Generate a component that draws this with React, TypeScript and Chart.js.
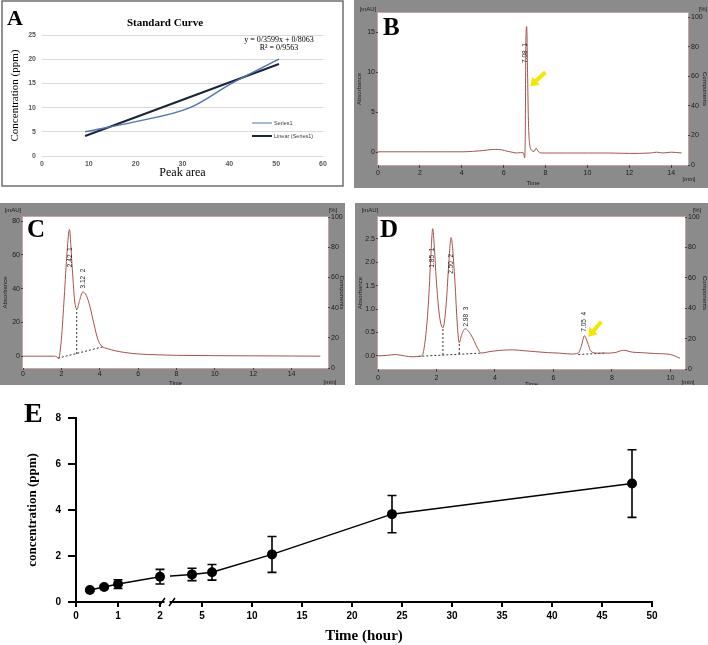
import React, { useEffect, useRef } from "react";
import { Chart, registerables } from "chart.js";

Chart.register(...registerables);

// ---------------- Panel A : standard curve ----------------
const aPeakArea = [9.2, 20, 31.6, 40.5, 50.6];
const aConcentration = [5, 7.1, 10, 15, 20];
const aTrendX = [9.2, 50.6];
const aTrendY = [4.12, 19.02];
const aXTicks = [0, 10, 20, 30, 40, 50, 60];
const aYTicks = [0, 5, 10, 15, 20, 25];
const aEquation = ["y = 0/3599x + 0/8063", "R² = 0/9563"];
const aLegend = ["Series1", "Linear (Series1)"];

// ---------------- Panel B : chromatogram ----------------
const bTime = [0, 1, 2, 3, 4, 4.5, 5, 5.3, 5.6, 5.9, 6.2, 6.4, 6.6, 6.8, 6.95, 7.0, 7.03, 7.06, 7.1, 7.14, 7.18, 7.22, 7.28, 7.35, 7.45, 7.55, 7.65, 7.8, 8, 9, 10, 11, 12, 13, 13.3, 13.6, 14, 14.5];
const bAbs = [0.05, 0.05, 0.05, 0.05, 0.05, 0.1, 0.2, 0.3, 0.35, 0.3, 0.1, 0, -0.1, -0.05, -0.1, -0.7, 2, 14, 15.7, 10, 4, 1.5, 0.5, 0.2, 0.1, 0.5, 0.1, -0.1, -0.1, -0.1, -0.1, -0.1, -0.15, -0.1, 0, -0.1, 0, -0.1];
const bXTicks = [0, 2, 4, 6, 8, 10, 12, 14];
const bYTicks = [0, 5, 10, 15];
const bPeakTime = [7.05];
const bPeakLabelAbs = [12.4];
const bPeakRt = ["7.08"];
const bPeakNo = ["1"];
const bArrow = [7.99, 10, 7.27, 8.25];

// ---------------- Panel C : chromatogram ----------------
const cTime = [0, 1, 1.6, 1.78, 1.85, 2.0, 2.15, 2.3, 2.42, 2.55, 2.7, 2.82, 2.95, 3.12, 3.3, 3.5, 3.7, 3.9, 4.1, 4.4, 4.8, 5.3, 6, 7, 8, 10, 12, 14, 15.5];
const cAbs = [0, 0, 0, -0.5, -1.5, 10, 35, 62, 75, 55, 32, 28, 33, 38, 36, 29, 19, 10, 6, 4.5, 3.2, 2.2, 1.3, 0.8, 0.5, 0.3, 0.2, 0.1, 0];
const cXTicks = [0, 2, 4, 6, 8, 10, 12, 14];
const cYTicks = [0, 20, 40, 60, 80];
const cBaseTime = [1.82, 4.15];
const cBaseAbs = [-1.2, 5.5];
const cCutTime = [2.8, 2.8];
const cCutAbs = [1.3, 28];
const cPeakTime = [2.45, 3.12];
const cPeakLabelAbs = [58.6, 46];
const cPeakRt = ["2.42", "3.12"];
const cPeakNo = ["1", "2"];

// ---------------- Panel D : chromatogram ----------------
const dTime = [0, 0.3, 0.6, 0.9, 1.2, 1.4, 1.5, 1.61, 1.72, 1.81, 1.87, 1.93, 1.99, 2.1, 2.22, 2.33, 2.41, 2.5, 2.61, 2.72, 2.78, 2.86, 2.98, 3.18, 3.41, 3.53, 3.8, 4.2, 4.6, 5.0, 5.4, 5.8, 6.2, 6.6, 6.85, 6.95, 7.06, 7.16, 7.28, 7.5, 7.8, 8.1, 8.4, 8.7, 9.0, 9.5, 10.0, 10.33];
const dAbs = [0, 0.01, 0.03, 0.0, -0.02, -0.01, 0.0, 0.31, 1.09, 2.16, 2.72, 2.3, 1.66, 0.87, 0.6, 1.09, 1.87, 2.53, 1.8, 0.6, 0.28, 0.45, 0.58, 0.45, 0.16, 0.06, 0.09, 0.12, 0.13, 0.11, 0.09, 0.07, 0.06, 0.04, 0.06, 0.2, 0.43, 0.3, 0.1, 0.06, 0.06, 0.07, 0.12, 0.08, 0.07, 0.05, 0.03, -0.05];
const dXTicks = [0, 2, 4, 6, 8, 10];
const dYTicks = [0, 0.5, 1, 1.5, 2, 2.5];
const dBaseTime = [1.38, 3.53];
const dBaseAbs = [-0.01, 0.06];
const dCut1Time = [2.22, 2.22];
const dCut1Abs = [0.02, 0.6];
const dCut2Time = [2.78, 2.78];
const dCut2Abs = [0.04, 0.28];
const dBase2Time = [6.85, 7.76];
const dBase2Abs = [0.03, 0.06];
const dPeakTime = [1.84, 2.52, 3.0, 7.05];
const dPeakLabelAbs = [2.1, 1.97, 0.84, 0.73];
const dPeakRt = ["1.85", "2.50", "2.98", "7.05"];
const dPeakNo = ["1", "2", "3", "4"];
const dArrow = [7.64, 0.73, 7.19, 0.41];

const pctTicks = [0, 20, 40, 60, 80, 100];

// ---------------- Panel E : concentration vs time ----------------
const eHours = [0.33, 0.67, 1, 2, 4, 6, 12, 24, 48];
const eMean = [0.52, 0.65, 0.78, 1.1, 1.2, 1.29, 2.07, 3.82, 5.15];
const eSD = [0.05, 0.06, 0.19, 0.32, 0.27, 0.34, 0.78, 0.81, 1.47];
const eXTickHours = [0, 1, 2, 5, 10, 15, 20, 25, 30, 35, 40, 45, 50];
const eYTicks = [0, 2, 4, 6, 8];

// broken axis: 0-2 h expanded, then linear from 5 h
const uOf = (h: number) => (h <= 2 ? h * 42 : 126 + (h - 5) * 10);
const E_BREAK_U = 91;

const GRAY = "#8b8b8b";
const TRACE = "#a9524e";
const TXT = "#1c1c1c";
const SANS = '"Liberation Sans", Arial, sans-serif';
const SERIF = '"Liberation Serif", "Times New Roman", serif';

const pts = (xs: number[], ys: number[]) => xs.map((x, i) => ({ x, y: ys[i] }));
const setTicks = (vals: number[]) => (s: any) => {
  s.ticks = vals.map((v) => ({ value: v }));
};

function drawArrow(ctx: CanvasRenderingContext2D, x1: number, y1: number, x2: number, y2: number) {
  const ang = Math.atan2(y2 - y1, x2 - x1);
  const head = 8;
  ctx.save();
  ctx.strokeStyle = "#f3e600";
  ctx.fillStyle = "#f3e600";
  ctx.lineWidth = 4;
  ctx.beginPath();
  ctx.moveTo(x1, y1);
  ctx.lineTo(x2 - Math.cos(ang) * head * 0.8, y2 - Math.sin(ang) * head * 0.8);
  ctx.stroke();
  ctx.beginPath();
  ctx.moveTo(x2, y2);
  ctx.lineTo(x2 - Math.cos(ang) * head - Math.sin(ang) * 5.5, y2 - Math.sin(ang) * head + Math.cos(ang) * 5.5);
  ctx.lineTo(x2 - Math.cos(ang) * head + Math.sin(ang) * 5.5, y2 - Math.sin(ang) * head - Math.cos(ang) * 5.5);
  ctx.closePath();
  ctx.fill();
  ctx.restore();
}

// ---------------- config builders ----------------
function configA(): any {
  const plugin = {
    id: "panelA",
    afterDraw(chart: any) {
      const ctx: CanvasRenderingContext2D = chart.ctx;
      ctx.save();
      ctx.strokeStyle = "#6f6f6f";
      ctx.lineWidth = 1.5;
      ctx.strokeRect(2, 1, 341, 185);
      ctx.fillStyle = "#000";
      ctx.textAlign = "center";
      ctx.textBaseline = "middle";
      ctx.font = `bold 11px ${SERIF}`;
      ctx.fillText("Standard Curve", 165, 23);
      ctx.font = `8px ${SERIF}`;
      ctx.fillText(aEquation[0], 279, 40);
      ctx.fillText(aEquation[1], 279, 48);
      // legend
      ctx.strokeStyle = "#4f76b3";
      ctx.lineWidth = 1;
      ctx.beginPath();
      ctx.moveTo(252, 123);
      ctx.lineTo(272, 123);
      ctx.stroke();
      ctx.strokeStyle = "#1c2536";
      ctx.lineWidth = 2;
      ctx.beginPath();
      ctx.moveTo(252, 136);
      ctx.lineTo(272, 136);
      ctx.stroke();
      ctx.fillStyle = "#404040";
      ctx.textAlign = "left";
      ctx.font = `5.5px ${SANS}`;
      ctx.fillText(aLegend[0], 274, 123);
      ctx.fillText(aLegend[1], 274, 136);
      ctx.fillStyle = "#000";
      ctx.font = `bold 22px ${SERIF}`;
      ctx.textBaseline = "alphabetic";
      ctx.fillText("A", 7, 25);
      ctx.restore();
    },
  };
  return {
    type: "line",
    data: {
      datasets: [
        {
          label: aLegend[0],
          data: pts(aPeakArea, aConcentration),
          borderColor: "#4f76b3",
          borderWidth: 1.5,
          pointRadius: 0,
          cubicInterpolationMode: "monotone",
        },
        {
          label: aLegend[1],
          data: pts(aTrendX, aTrendY),
          borderColor: "#1c2536",
          borderWidth: 2,
          pointRadius: 0,
        },
      ],
    },
    options: {
      responsive: false,
      animation: false,
      devicePixelRatio: 1,
      layout: { padding: { top: 35, right: 22, left: 0, bottom: 0 } },
      plugins: { legend: { display: false }, tooltip: { enabled: false } },
      scales: {
        x: {
          type: "linear",
          min: 0,
          max: 60,
          afterBuildTicks: setTicks(aXTicks),
          afterFit: (s: any) => { s.height = 34; },
          grid: { display: false, drawTicks: false },
          border: { display: false },
          ticks: { font: { family: SANS, size: 7, weight: "bold" }, color: "#595959", padding: 4 },
          title: { display: true, text: "Peak area", font: { family: SERIF, size: 12 }, color: "#000", padding: { top: 0, bottom: 9.5 } },
        },
        y: {
          type: "linear",
          min: 0,
          max: 25,
          afterBuildTicks: setTicks(aYTicks),
          afterFit: (s: any) => { s.width = 42; },
          grid: { color: "#d9d9d9", drawTicks: false },
          border: { display: false },
          ticks: { font: { family: SANS, size: 7, weight: "bold" }, color: "#595959", padding: 6 },
          title: { display: true, text: "Concentration (ppm)", font: { family: SERIF, size: 11 }, color: "#000", padding: { top: 8.4, bottom: 0 } },
        },
      },
    },
    plugins: [plugin],
  };
}

type ChromSpec = {
  top: number; yW: number; y2W: number; xH: number;
  time: number[]; abs: number[];
  xMax: number; xTicks: number[];
  yMin: number; yMax: number; yTicks: number[]; yDec: number;
  dashed: { x: number[]; y: number[] }[];
  peakT: number[]; peakV: number[]; peakRt: string[]; peakNo: string[];
  arrow?: number[];
  letter: string; letterX: number; letterY: number;
  mau: number[]; pct: number[]; minPos: number[];
  xTickLen: number; xTickPad: number; timePad: number; y2Max: number;
};

function chromConfig(s: ChromSpec): any {
  const plugin = {
    id: "chrom" + s.letter,
    beforeDraw(chart: any) {
      const { ctx, chartArea: a, width, height } = chart;
      ctx.save();
      ctx.fillStyle = GRAY;
      ctx.fillRect(0, 0, width, height);
      ctx.fillStyle = "#ffffff";
      ctx.fillRect(a.left, a.top, a.right - a.left, a.bottom - a.top);
      ctx.strokeStyle = "#c9a4a2";
      ctx.lineWidth = 1;
      ctx.strokeRect(a.left - 0.5, a.top - 0.5, a.right - a.left + 1, a.bottom - a.top + 1);
      ctx.restore();
    },
    afterDraw(chart: any) {
      const ctx: CanvasRenderingContext2D = chart.ctx;
      const xs = chart.scales.x;
      const ys = chart.scales.y;
      ctx.save();
      ctx.fillStyle = TXT;
      ctx.font = `6.5px ${SANS}`;
      ctx.textAlign = "center";
      ctx.textBaseline = "middle";
      s.peakT.forEach((t, i) => {
        const x = xs.getPixelForValue(t);
        const y = ys.getPixelForValue(s.peakV[i]);
        ctx.save();
        ctx.translate(x, y);
        ctx.rotate(-Math.PI / 2);
        ctx.fillText(s.peakRt[i] + "  " + s.peakNo[i], 0, 0);
        ctx.restore();
      });
      if (s.arrow) {
        drawArrow(
          ctx,
          xs.getPixelForValue(s.arrow[0]), ys.getPixelForValue(s.arrow[1]),
          xs.getPixelForValue(s.arrow[2]), ys.getPixelForValue(s.arrow[3])
        );
      }
      ctx.fillStyle = TXT;
      ctx.font = `6px ${SANS}`;
      ctx.fillText("[mAU]", s.mau[0], s.mau[1]);
      ctx.fillText("[%]", s.pct[0], s.pct[1]);
      ctx.fillText("[min]", s.minPos[0], s.minPos[1]);
      ctx.fillStyle = "#000";
      ctx.font = `bold 25px ${SERIF}`;
      ctx.textAlign = "left";
      ctx.textBaseline = "alphabetic";
      ctx.fillText(s.letter, s.letterX, s.letterY);
      ctx.restore();
    },
  };
  const tickFont = { family: SANS, size: 7 };
  const titleFont = { family: SANS, size: 6 };
  return {
    type: "line",
    data: {
      datasets: [
        {
          data: pts(s.time, s.abs),
          borderColor: TRACE,
          borderWidth: 1,
          pointRadius: 0,
          cubicInterpolationMode: "monotone",
        },
        ...s.dashed.map((d) => ({
          data: pts(d.x, d.y),
          borderColor: "#333",
          borderWidth: 1,
          borderDash: [2, 2],
          pointRadius: 0,
        })),
      ],
    },
    options: {
      responsive: false,
      animation: false,
      devicePixelRatio: 1,
      layout: { padding: { top: s.top, right: 0, left: 0, bottom: 0 } },
      plugins: { legend: { display: false }, tooltip: { enabled: false } },
      scales: {
        x: {
          type: "linear",
          min: 0,
          max: s.xMax,
          afterBuildTicks: setTicks(s.xTicks),
          afterFit: (sc: any) => { sc.height = s.xH; },
          grid: { drawOnChartArea: false, drawTicks: true, tickLength: s.xTickLen, color: "#444" },
          border: { display: false },
          ticks: { font: tickFont, color: TXT, padding: s.xTickPad, maxRotation: 0, autoSkip: false },
          title: { display: true, text: "Time", font: titleFont, color: TXT, padding: { top: 0, bottom: s.timePad } },
        },
        y: {
          type: "linear",
          min: s.yMin,
          max: s.yMax,
          afterBuildTicks: setTicks(s.yTicks),
          afterFit: (sc: any) => { sc.width = s.yW; },
          grid: { drawOnChartArea: false, drawTicks: true, tickLength: 2, color: "#444" },
          border: { display: false },
          ticks: { font: tickFont, color: TXT, padding: 1, callback: (v: number) => v.toFixed(s.yDec) },
          title: { display: true, text: "Absorbance", font: titleFont, color: TXT, padding: { top: 1.4, bottom: 0 } },
        },
        y2: {
          type: "linear",
          position: "right",
          min: 0,
          max: s.y2Max,
          afterBuildTicks: setTicks(pctTicks),
          afterFit: (sc: any) => { sc.width = s.y2W; },
          grid: { drawOnChartArea: false, drawTicks: true, tickLength: 2, color: "#444" },
          border: { display: false },
          ticks: { font: tickFont, color: TXT, padding: 1 },
          title: { display: true, text: "Components", font: titleFont, color: TXT, padding: { top: 0, bottom: 0 } },
        },
      },
    },
    plugins: [plugin],
  };
}

function configE(): any {
  const iBreak = eHours.indexOf(2);
  const plugin = {
    id: "panelE",
    beforeDatasetsDraw(chart: any) {
      const ctx: CanvasRenderingContext2D = chart.ctx;
      const xs = chart.scales.x;
      const ys = chart.scales.y;
      ctx.save();
      ctx.strokeStyle = "#000";
      ctx.lineWidth = 1.6;
      eHours.forEach((h, i) => {
        const x = xs.getPixelForValue(uOf(h));
        const yt = ys.getPixelForValue(eMean[i] + eSD[i]);
        const yb = ys.getPixelForValue(eMean[i] - eSD[i]);
        ctx.beginPath();
        ctx.moveTo(x, yt);
        ctx.lineTo(x, yb);
        ctx.moveTo(x - 4.5, yt);
        ctx.lineTo(x + 4.5, yt);
        ctx.moveTo(x - 4.5, yb);
        ctx.lineTo(x + 4.5, yb);
        ctx.stroke();
      });
      ctx.restore();
    },
    afterDraw(chart: any) {
      const ctx: CanvasRenderingContext2D = chart.ctx;
      const xs = chart.scales.x;
      const a = chart.chartArea;
      const bx = xs.getPixelForValue(E_BREAK_U);
      const ay = a.bottom;
      ctx.save();
      ctx.fillStyle = "#fff";
      ctx.fillRect(bx - 2.5, ay - 2, 5, 4.5);
      ctx.strokeStyle = "#000";
      ctx.lineWidth = 1.5;
      ctx.beginPath();
      ctx.moveTo(bx - 8, ay + 4);
      ctx.lineTo(bx - 2, ay - 4);
      ctx.moveTo(bx + 2, ay + 4);
      ctx.lineTo(bx + 8, ay - 4);
      ctx.stroke();
      ctx.fillStyle = "#000";
      ctx.font = `bold 28px ${SERIF}`;
      ctx.textAlign = "left";
      ctx.textBaseline = "alphabetic";
      ctx.fillText("E", 24, 27);
      ctx.restore();
    },
  };
  return {
    type: "line",
    data: {
      datasets: [
        {
          data: eHours.map((h, i) => ({ x: uOf(h), y: eMean[i] })),
          borderColor: "#000",
          borderWidth: 1.5,
          pointRadius: 5,
          pointBackgroundColor: "#000",
          pointBorderWidth: 0,
          clip: false,
          segment: {
            borderColor: (c: any) => {
              if (c.p0DataIndex !== iBreak) return undefined;
              const chart = c.chart;
              const bx = chart.scales.x.getPixelForValue(E_BREAK_U) + 3;
              const x0 = c.p0.x;
              const x1 = c.p1.x;
              const f = Math.min(Math.max((bx - x0) / (x1 - x0), 0), 1);
              const g = chart.ctx.createLinearGradient(x0, 0, x1, 0);
              g.addColorStop(0, "rgba(0,0,0,0)");
              g.addColorStop(f, "rgba(0,0,0,0)");
              g.addColorStop(f, "#000");
              g.addColorStop(1, "#000");
              return g;
            },
          },
        },
      ],
    },
    options: {
      responsive: false,
      animation: false,
      devicePixelRatio: 1,
      layout: { padding: { top: 23, right: 56, left: 0, bottom: 0 } },
      plugins: { legend: { display: false }, tooltip: { enabled: false } },
      scales: {
        x: {
          type: "linear",
          min: 0,
          max: uOf(50),
          afterBuildTicks: (s: any) => {
            s.ticks = eXTickHours.map((h) => ({ value: uOf(h) }));
          },
          afterFit: (s: any) => { s.height = 43; },
          grid: { drawOnChartArea: false, drawTicks: true, tickLength: 5, color: "#000", lineWidth: 2 },
          border: { color: "#000", width: 2 },
          ticks: {
            font: { family: SANS, size: 10, weight: "bold" },
            color: "#000",
            padding: 3,
            maxRotation: 0,
            autoSkip: false,
            callback: (_v: number, i: number) => String(eXTickHours[i]),
          },
          title: { display: true, text: "Time (hour)", font: { family: SERIF, size: 15, weight: "bold" }, color: "#000", padding: { top: 0, bottom: 0 } },
        },
        y: {
          type: "linear",
          min: 0,
          max: 8,
          afterBuildTicks: setTicks(eYTicks),
          afterFit: (s: any) => { s.width = 76; },
          grid: { drawOnChartArea: false, drawTicks: true, tickLength: 8, color: "#000", lineWidth: 2 },
          border: { color: "#000", width: 2 },
          ticks: { font: { family: SANS, size: 10, weight: "bold" }, color: "#000", padding: 7 },
          title: { display: true, text: "concentration (ppm)", font: { family: SERIF, size: 13, weight: "bold" }, color: "#000", padding: { top: 25, bottom: 0 } },
        },
      },
    },
    plugins: [plugin],
  };
}

function ChartBox({ left, top, width, height, build }: { left: number; top: number; width: number; height: number; build: () => any }) {
  const ref = useRef<HTMLCanvasElement>(null);
  useEffect(() => {
    const chart = new Chart(ref.current as HTMLCanvasElement, build());
    return () => chart.destroy();
  }, []);
  return (
    <div style={{ position: "absolute", left, top, width, height }}>
      <canvas ref={ref} width={width} height={height} style={{ display: "block", width, height }} />
    </div>
  );
}

export default function App() {
  const specB: ChromSpec = {
    top: 13, yW: 24, y2W: 20, xH: 23,
    time: bTime, abs: bAbs, xMax: 14.8, xTicks: bXTicks,
    yMin: -1.6, yMax: 17.4, yTicks: bYTicks, yDec: 0,
    dashed: [],
    peakT: bPeakTime, peakV: bPeakLabelAbs, peakRt: bPeakRt, peakNo: bPeakNo,
    arrow: bArrow,
    letter: "B", letterX: 29, letterY: 35,
    mau: [14, 9], pct: [349, 9], minPos: [335, 179],
    xTickLen: 3, xTickPad: 1, timePad: 1.4, y2Max: 103,
  };
  const specC: ChromSpec = {
    top: 14, yW: 23, y2W: 17, xH: 17,
    time: cTime, abs: cAbs, xMax: 15.9, xTicks: cXTicks,
    yMin: -7, yMax: 82.4, yTicks: cYTicks, yDec: 0,
    dashed: [{ x: cBaseTime, y: cBaseAbs }, { x: cCutTime, y: cCutAbs }],
    peakT: cPeakTime, peakV: cPeakLabelAbs, peakRt: cPeakRt, peakNo: cPeakNo,
    letter: "C", letterX: 27, letterY: 34,
    mau: [13, 7], pct: [333, 7], minPos: [330, 179],
    xTickLen: 2, xTickPad: 0, timePad: -1.6, y2Max: 100,
  };
  const specD: ChromSpec = {
    top: 14, yW: 23, y2W: 23, xH: 16,
    time: dTime, abs: dAbs, xMax: 10.5, xTicks: dXTicks,
    yMin: -0.28, yMax: 2.97, yTicks: dYTicks, yDec: 1,
    dashed: [
      { x: dBaseTime, y: dBaseAbs },
      { x: dCut1Time, y: dCut1Abs },
      { x: dCut2Time, y: dCut2Abs },
      { x: dBase2Time, y: dBase2Abs },
    ],
    peakT: dPeakTime, peakV: dPeakLabelAbs, peakRt: dPeakRt, peakNo: dPeakNo,
    arrow: dArrow,
    letter: "D", letterX: 25, letterY: 34,
    mau: [15, 7], pct: [342, 7], minPos: [333, 179],
    xTickLen: 3, xTickPad: 2, timePad: -2.6, y2Max: 100,
  };
  return (
    <div style={{ position: "fixed", left: 0, top: 0, width: 708, height: 645, background: "#fff", overflow: "hidden" }}>
      <ChartBox left={0} top={0} width={345} height={190} build={configA} />
      <ChartBox left={354} top={0} width={354} height={188} build={() => chromConfig(specB)} />
      <ChartBox left={0} top={203} width={345} height={182} build={() => chromConfig(specC)} />
      <ChartBox left={355} top={203} width={353} height={182} build={() => chromConfig(specD)} />
      <ChartBox left={0} top={395} width={708} height={250} build={configE} />
    </div>
  );
}
